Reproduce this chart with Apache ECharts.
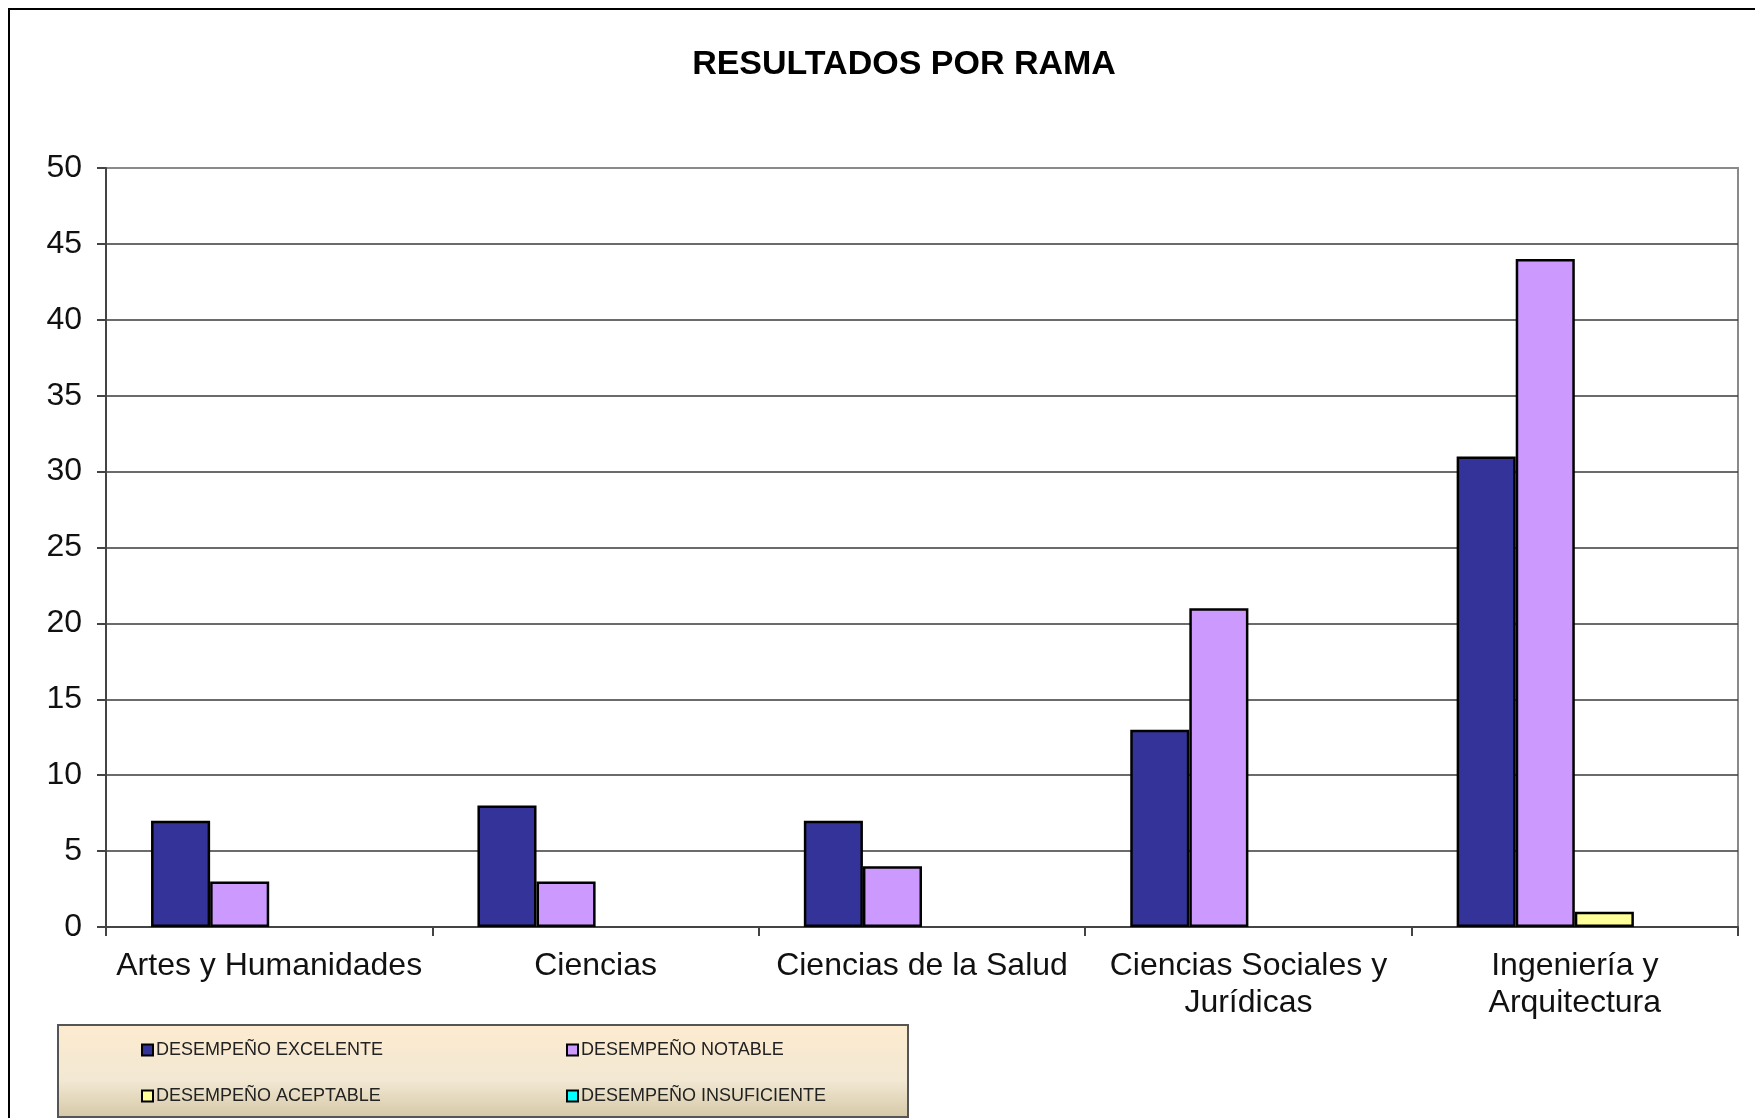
<!DOCTYPE html>
<html>
<head>
<meta charset="utf-8">
<script src="https://cdn.jsdelivr.net/npm/echarts@6/dist/echarts.min.js"></script>
<style>
  html, body { margin: 0; padding: 0; background: #fff; }
  #chart { width: 1755px; height: 1118px; }
</style>
</head>
<body>
<div id="chart"></div>
<script>
// datos
const ramas = ['Artes y Humanidades', 'Ciencias', 'Ciencias de la Salud', 'Ciencias Sociales y\nJurídicas', 'Ingeniería y\nArquitectura'];
const excelente = [7, 8, 7, 13, 31];
const notable = [3, 3, 4, 21, 44];
const aceptable = [0, 0, 0, 0, 1];
const insuficiente = [0, 0, 0, 0, 0];
const yTicks = [0, 5, 10, 15, 20, 25, 30, 35, 40, 45, 50];

const nombres = ['DESEMPEÑO EXCELENTE', 'DESEMPEÑO NOTABLE', 'DESEMPEÑO ACEPTABLE', 'DESEMPEÑO INSUFICIENTE'];
const colores = ['#333399', '#CC99FF', '#FFFF99', '#00FFFF'];
const valores = [excelente, notable, aceptable, insuficiente];

const FONT = '"Liberation Sans", Arial, sans-serif';

const chart = echarts.init(document.getElementById('chart'), null, { renderer: 'canvas' });

const series = nombres.map((n, i) => ({
    name: n,
    type: 'bar',
    // excel no dibuja las barras de valor 0
    data: valores[i].map(v => v === 0 ? '-' : v),
    barGap: '0%',
    barCategoryGap: '27.6%',
    itemStyle: { color: colores[i], borderColor: '#000', borderWidth: 2.5 },
    emphasis: { disabled: true }
}));

const legendText = { fontFamily: FONT, fontSize: 18, color: '#222', lineHeight: 20, padding: [0, 0, 0, -2] };

const option = {
    backgroundColor: '#ffffff',
    animation: false,
    title: {
        text: 'RESULTADOS POR RAMA',
        left: 899,
        textAlign: 'center',
        top: 43,
        textStyle: { fontFamily: FONT, fontSize: 34, fontWeight: 'bold', color: '#000' }
    },
    graphic: [
        {
            type: 'rect',
            z: -10,
            shape: { x: 9, y: 9, width: 1800, height: 1200 },
            style: { fill: 'none', stroke: '#000', lineWidth: 2 }
        },
        {
            type: 'rect',
            z: -5,
            shape: { x: 58, y: 1025, width: 850, height: 92 },
            style: {
                stroke: '#555',
                lineWidth: 2,
                fill: new echarts.graphic.LinearGradient(0, 0, 0, 1, [
                    { offset: 0, color: '#FDEBCF' },
                    { offset: 0.6, color: '#F2E8D3' },
                    { offset: 1, color: '#D5C8A7' }
                ])
            }
        }
    ],
    legend: [
        {
            orient: 'vertical',
            left: 136,
            top: 1035,
            itemGap: 26,
            itemWidth: 11,
            itemHeight: 11,
            icon: 'rect',
            data: [nombres[0], nombres[2]],
            itemStyle: { borderColor: '#000', borderWidth: 2 },
            textStyle: legendText,
            selectedMode: false
        },
        {
            orient: 'vertical',
            left: 561,
            top: 1035,
            itemGap: 26,
            itemWidth: 11,
            itemHeight: 11,
            icon: 'rect',
            data: [nombres[1], nombres[3]],
            itemStyle: { borderColor: '#000', borderWidth: 2 },
            textStyle: legendText,
            selectedMode: false
        }
    ],
    grid: {
        left: 106,
        right: 17,
        top: 168,
        bottom: 191,
        show: true,
        borderColor: '#8a8a8a',
        borderWidth: 2,
        backgroundColor: 'transparent'
    },
    xAxis: {
        type: 'category',
        data: ramas,
        axisLine: { lineStyle: { color: '#444', width: 2 } },
        axisTick: { show: true, length: 9, alignWithLabel: false, lineStyle: { color: '#444', width: 2 } },
        axisLabel: {
            fontFamily: FONT,
            fontSize: 32,
            color: '#111',
            margin: 21,
            lineHeight: 37,
            interval: 0
        }
    },
    yAxis: {
        type: 'value',
        min: yTicks[0],
        max: yTicks[yTicks.length - 1],
        interval: yTicks[1] - yTicks[0],
        axisLine: { show: true, lineStyle: { color: '#444', width: 2 } },
        axisTick: { show: true, length: 9, lineStyle: { color: '#444', width: 2 } },
        axisLabel: {
            fontFamily: FONT,
            fontSize: 32,
            color: '#111',
            margin: 24
        },
        splitLine: {
            show: true,
            showMaxLine: false,
            lineStyle: { color: '#3a3a3a', width: 1.5 }
        }
    },
    series: series
};

chart.setOption(option);
</script>
</body>
</html>
